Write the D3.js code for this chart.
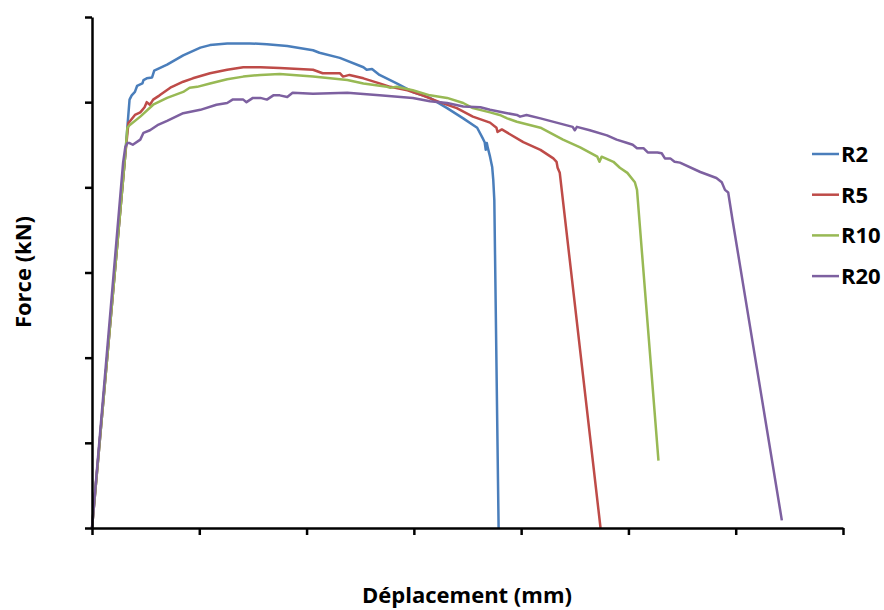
<!DOCTYPE html>
<html lang="fr">
<head>
<meta charset="UTF-8">
<title>Force - Déplacement</title>
<script src="https://d3js.org/d3.v7.min.js"></script>
<style>
    body { margin: 0; background: #fff; }
    svg { display: block; font-family: "Open Sans", "DejaVu Sans", sans-serif; }
    .axis path, .axis line { stroke: #000; stroke-width: 2.5px; }
    .axis text { display: none; }
    .curve { fill: none; stroke-width: 2.5px; stroke-linejoin: round; }
    .label, .legend text { font-weight: bold; fill: #000; }
</style>
</head>
<body>
<div id="chart"></div>
<script>
// series names and colours (Excel 2007 palette)
const seriesNames = ["R2", "R5", "R10", "R20"];
const seriesColors = ["#4a7ebb", "#be4b48", "#98b954", "#7d60a0"];

// displacement (mm) / force (kN)
const r2Disp = [0, 0.31, 0.33, 0.35, 0.37, 0.40, 0.42, 0.47, 0.48, 0.51, 0.56, 0.58, 0.63, 0.70, 0.85, 1.01, 1.10, 1.26, 1.47, 1.63, 1.82, 2.06, 2.12, 2.31, 2.53, 2.56, 2.61, 2.68, 2.84, 2.99, 3.15, 3.31, 3.46, 3.59, 3.64, 3.66, 3.67, 3.68, 3.69, 3.71, 3.73, 3.74, 3.75, 3.79];
const r2Force = [0, 4.38, 4.71, 5.03, 5.08, 5.12, 5.19, 5.22, 5.26, 5.28, 5.29, 5.37, 5.40, 5.44, 5.55, 5.64, 5.67, 5.69, 5.69, 5.68, 5.66, 5.61, 5.58, 5.52, 5.41, 5.38, 5.39, 5.32, 5.22, 5.12, 5.05, 4.93, 4.81, 4.70, 4.58, 4.53, 4.44, 4.52, 4.46, 4.36, 4.24, 4.09, 3.85, 0];

const r5Disp = [0, 0.31, 0.34, 0.35, 0.40, 0.45, 0.47, 0.49, 0.51, 0.54, 0.57, 0.63, 0.73, 0.85, 0.94, 1.10, 1.26, 1.41, 1.57, 1.75, 2.06, 2.15, 2.31, 2.34, 2.40, 2.53, 2.68, 2.78, 2.94, 3.08, 3.24, 3.40, 3.55, 3.71, 3.77, 3.78, 3.82, 4.02, 4.18, 4.30, 4.33, 4.34, 4.36, 4.74];
const r5Force = [0, 4.38, 4.76, 4.77, 4.85, 4.88, 4.91, 4.94, 5.00, 4.97, 5.03, 5.08, 5.17, 5.24, 5.28, 5.34, 5.38, 5.41, 5.41, 5.40, 5.38, 5.34, 5.34, 5.30, 5.32, 5.28, 5.22, 5.18, 5.14, 5.08, 5.00, 4.93, 4.83, 4.76, 4.70, 4.65, 4.68, 4.53, 4.44, 4.34, 4.30, 4.23, 4.17, 0];

const r10Disp = [0, 0.31, 0.33, 0.35, 0.45, 0.57, 0.70, 0.85, 0.91, 0.98, 1.10, 1.26, 1.41, 1.57, 1.75, 2.06, 2.38, 2.53, 2.75, 2.78, 2.84, 2.99, 3.15, 3.31, 3.46, 3.55, 3.71, 3.80, 3.87, 3.96, 4.18, 4.39, 4.55, 4.71, 4.73, 4.75, 4.86, 4.92, 4.99, 5.06, 5.08, 5.28];
const r10Force = [0, 4.38, 4.70, 4.73, 4.83, 4.97, 5.05, 5.12, 5.17, 5.18, 5.22, 5.27, 5.30, 5.32, 5.33, 5.30, 5.26, 5.22, 5.18, 5.17, 5.18, 5.14, 5.08, 5.05, 4.99, 4.93, 4.88, 4.85, 4.81, 4.77, 4.70, 4.56, 4.47, 4.36, 4.30, 4.36, 4.30, 4.23, 4.17, 4.06, 3.97, 0.79];

const r20Disp = [0, 0.29, 0.31, 0.33, 0.35, 0.38, 0.45, 0.48, 0.54, 0.61, 0.70, 0.85, 1.01, 1.16, 1.26, 1.31, 1.41, 1.44, 1.50, 1.57, 1.63, 1.69, 1.75, 1.82, 1.87, 2.06, 2.38, 2.68, 2.99, 3.15, 3.31, 3.46, 3.62, 3.71, 3.87, 3.96, 3.99, 4.05, 4.18, 4.33, 4.48, 4.50, 4.52, 4.64, 4.80, 4.89, 4.99, 5.04, 5.08, 5.14, 5.18, 5.27, 5.31, 5.34, 5.39, 5.43, 5.48, 5.67, 5.82, 5.87, 5.90, 5.93, 5.97, 6.43];
const r20Force = [0, 4.29, 4.47, 4.52, 4.52, 4.50, 4.56, 4.64, 4.67, 4.73, 4.78, 4.87, 4.91, 4.97, 4.99, 5.03, 5.03, 5.00, 5.05, 5.05, 5.03, 5.08, 5.08, 5.06, 5.11, 5.10, 5.11, 5.08, 5.05, 5.01, 4.99, 4.95, 4.94, 4.91, 4.87, 4.85, 4.83, 4.85, 4.81, 4.76, 4.71, 4.67, 4.71, 4.67, 4.61, 4.56, 4.52, 4.50, 4.46, 4.46, 4.41, 4.41, 4.40, 4.34, 4.34, 4.30, 4.29, 4.18, 4.11, 4.06, 3.97, 3.94, 3.62, 0.09];

// tick values (no labels are printed)
const xTicks = [0, 1, 2, 3, 4, 5, 6, 7];
const yTicks = [0, 1, 2, 3, 4, 5, 6];

const allDisp = [r2Disp, r5Disp, r10Disp, r20Disp];
const allForce = [r2Force, r5Force, r10Force, r20Force];
const series = seriesNames.map((name, i) => ({
    name: name,
    color: seriesColors[i],
    points: allDisp[i].map((d, j) => ({x: d, y: allForce[i][j]}))
}));

const W = 884, H = 610;
const margin = {top: 17, right: 41, bottom: 82, left: 92};
const width = W - margin.left - margin.right;
const height = H - margin.top - margin.bottom;

const svg = d3.select("#chart").append("svg")
    .attr("width", W)
    .attr("height", H);

const g = svg.append("g")
    .attr("transform", `translate(${margin.left},${margin.top})`);

const x = d3.scaleLinear().domain([0, 7]).range([0, width]);
const y = d3.scaleLinear().domain([0, 6]).range([height, 0]);

// curves first, axes on top
const line = d3.line().x(d => x(d.x)).y(d => y(d.y));

g.selectAll(".curve")
    .data(series)
    .enter()
    .append("path")
    .attr("class", "curve")
    .attr("stroke", d => d.color)
    .attr("d", d => line(d.points));

g.append("g")
    .attr("class", "axis")
    .attr("transform", `translate(0,${height})`)
    .call(d3.axisBottom(x).tickValues(xTicks).tickSize(7).tickSizeOuter(0));

g.append("g")
    .attr("class", "axis")
    .call(d3.axisLeft(y).tickValues(yTicks).tickSize(7).tickSizeOuter(0));

// axis titles
svg.append("text")
    .attr("class", "label")
    .attr("x", 467)
    .attr("y", 603)
    .attr("text-anchor", "middle")
    .style("font-size", "22px")
    .text("Déplacement (mm)");

svg.append("text")
    .attr("class", "label")
    .attr("transform", "translate(31,272) rotate(-90)")
    .attr("text-anchor", "middle")
    .style("font-size", "22px")
    .text("Force (kN)");

// legend
const legend = svg.append("g")
    .attr("class", "legend")
    .attr("transform", "translate(812,154)");

const item = legend.selectAll("g")
    .data(series)
    .enter()
    .append("g")
    .attr("transform", (d, i) => `translate(0,${i * 40.7})`);

item.append("line")
    .attr("x1", 0)
    .attr("x2", 27)
    .attr("stroke", d => d.color)
    .attr("stroke-width", 2.5);

item.append("text")
    .attr("x", 29)
    .attr("y", 8)
    .style("font-size", "22px")
    .text(d => d.name);
</script>
</body>
</html>
